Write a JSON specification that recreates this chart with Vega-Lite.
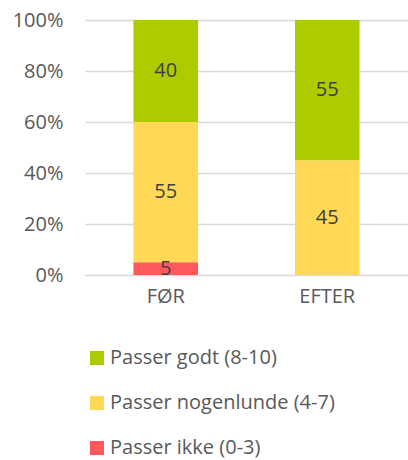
{
  "$schema": "https://vega.github.io/schema/vega-lite/v6.json",
  "autosize": {"type": "none"},
  "width": 323,
  "height": 255,
  "padding": {"left": 85, "top": 20, "right": 0, "bottom": 185},
  "background": "white",
  "config": {
    "font": "Open Sans",
    "view": {"stroke": null},
    "axis": {"labelFont": "Open Sans", "labelColor": "#595959", "labelFontSize": 20}
  },
  "data": {
    "values": [
      {"period": "FØR", "cat": "Passer ikke (0-3)", "value": 5, "o": 1},
      {"period": "FØR", "cat": "Passer nogenlunde (4-7)", "value": 55, "o": 2},
      {"period": "FØR", "cat": "Passer godt (8-10)", "value": 40, "o": 3},
      {"period": "EFTER", "cat": "Passer nogenlunde (4-7)", "value": 45, "o": 2},
      {"period": "EFTER", "cat": "Passer godt (8-10)", "value": 55, "o": 3}
    ]
  },
  "encoding": {
    "x": {
      "field": "period", "type": "nominal", "sort": ["FØR", "EFTER"],
      "scale": {"paddingInner": 0.6, "paddingOuter": 0.3},
      "axis": {"title": null, "labelAngle": 0, "ticks": false, "domain": true, "domainColor": "#d9d9d9", "labelPadding": 11}
    },
    "order": {"field": "o", "type": "quantitative", "sort": "ascending"}
  },
  "layer": [
    {
      "mark": {"type": "bar"},
      "encoding": {
        "y": {
          "field": "value", "type": "quantitative", "stack": "normalize",
          "axis": {"title": null, "format": ".0%", "values": [0, 0.2, 0.4, 0.6, 0.8, 1], "labelOverlap": false, "labelFlush": false, "ticks": false, "domain": false, "gridColor": "#d9d9d9", "gridWidth": 1.5, "labelPadding": 22}
        },
        "color": {
          "field": "cat", "type": "nominal",
          "scale": {
            "domain": ["Passer godt (8-10)", "Passer nogenlunde (4-7)", "Passer ikke (0-3)"],
            "range": ["#aecb00", "#ffd955", "#ff595d"]
          },
          "legend": {
            "title": null, "orient": "none", "legendX": 2, "legendY": 328,
            "direction": "vertical", "symbolType": "square", "symbolSize": 196,
            "symbolStrokeWidth": 0, "symbolOpacity": 1, "labelFontSize": 20, "labelColor": "#595959",
            "labelFont": "Open Sans", "labelLimit": 0, "rowPadding": 25, "labelOffset": 3
          }
        }
      }
    },
    {
      "mark": {"type": "text", "fontSize": 20, "color": "#404040", "baseline": "middle"},
      "encoding": {
        "y": {"field": "value", "type": "quantitative", "stack": "normalize", "bandPosition": 0.5},
        "text": {"field": "value", "type": "quantitative"}
      }
    }
  ]
}
